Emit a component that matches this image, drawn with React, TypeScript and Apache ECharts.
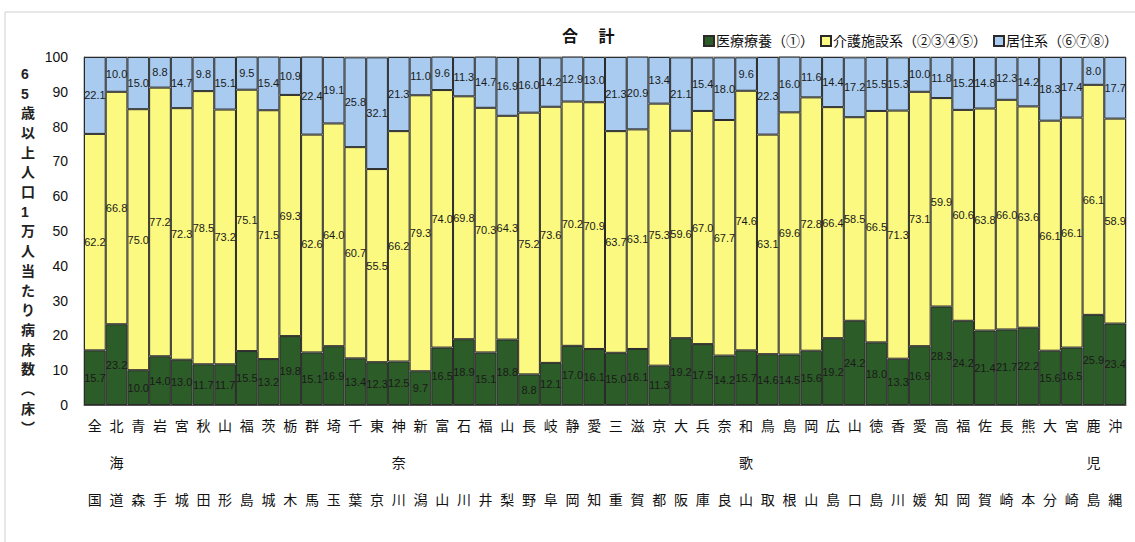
import React, { useEffect, useRef } from "react";
import * as echarts from "echarts";

const categories = [
  "全国", "北海道", "青森", "岩手", "宮城", "秋田", "山形", "福島", "茨城", "栃木", "群馬", "埼玉",
  "千葉", "東京", "神奈川", "新潟", "富山", "石川", "福井", "山梨", "長野", "岐阜", "静岡", "愛知",
  "三重", "滋賀", "京都", "大阪", "兵庫", "奈良", "和歌山", "鳥取", "島根", "岡山", "広島", "山口",
  "徳島", "香川", "愛媛", "高知", "福岡", "佐賀", "長崎", "熊本", "大分", "宮崎", "鹿児島", "沖縄",
];

const medical = [
  15.7, 23.2, 10.0, 14.0, 13.0, 11.7, 11.7, 15.5, 13.2, 19.8, 15.1, 16.9,
  13.4, 12.3, 12.5, 9.7, 16.5, 18.9, 15.1, 18.8, 8.8, 12.1, 17.0, 16.1,
  15.0, 16.1, 11.3, 19.2, 17.5, 14.2, 15.7, 14.6, 14.5, 15.6, 19.2, 24.2,
  18.0, 13.3, 16.9, 28.3, 24.2, 21.4, 21.7, 22.2, 15.6, 16.5, 25.9, 23.4,
];

const care = [
  62.2, 66.8, 75.0, 77.2, 72.3, 78.5, 73.2, 75.1, 71.5, 69.3, 62.6, 64.0,
  60.7, 55.5, 66.2, 79.3, 74.0, 69.8, 70.3, 64.3, 75.2, 73.6, 70.2, 70.9,
  63.7, 63.1, 75.3, 59.6, 67.0, 67.7, 74.6, 63.1, 69.6, 72.8, 66.4, 58.5,
  66.5, 71.3, 73.1, 59.9, 60.6, 63.8, 66.0, 63.6, 66.1, 66.1, 66.1, 58.9,
];

const residential = [
  22.1, 10.0, 15.0, 8.8, 14.7, 9.8, 15.1, 9.5, 15.4, 10.9, 22.4, 19.1,
  25.8, 32.1, 21.3, 11.0, 9.6, 11.3, 14.7, 16.9, 16.0, 14.2, 12.9, 13.0,
  21.3, 20.9, 13.4, 21.1, 15.4, 18.0, 9.6, 22.3, 16.0, 11.6, 14.4, 17.2,
  15.5, 15.3, 10.0, 11.8, 15.2, 14.8, 12.3, 14.2, 18.3, 17.4, 8.0, 17.7,
];

const seriesNames = ["医療療養（①）", "介護施設系（②③④⑤）", "居住系（⑥⑦⑧）"];
const yTitle = ["6", "5", "歳", "以", "上", "人", "口", "1", "万", "人", "当", "た", "り", "病", "床", "数", "︵", "床", "︶"];

const FONT = "'Liberation Sans', 'Noto Sans CJK JP', sans-serif";

export default function App() {
  const ref = useRef<HTMLDivElement>(null);

  useEffect(() => {
    document.body.style.margin = "0";
    const chart = echarts.init(ref.current!, null, { renderer: "svg" });
    const labelCfg = {
      show: true,
      position: "inside" as const,
      color: "#1a1a1a",
      fontSize: 11,
      fontFamily: FONT,
      formatter: (p: any) => Number(p.value).toFixed(1),
    };
    const mk = (name: string, data: number[], color: string) => ({
      name,
      type: "bar",
      stack: "total",
      data,
      barCategoryGap: "0%",
      itemStyle: { color, borderColor: "#2a2a2a", borderWidth: 1 },
      label: labelCfg,
    });
    chart.setOption({
      animation: false,
      textStyle: { fontFamily: FONT },
      title: {
        text: "合　 計",
        left: 557,
        top: 23,
        textStyle: { fontSize: 16, fontWeight: "bold", color: "#111", fontFamily: FONT },
      },
      legend: {
        top: 29,
        right: 12,
        icon: "rect",
        itemWidth: 10,
        itemHeight: 10,
        itemGap: 6,
        textStyle: { fontSize: 14, color: "#111", fontFamily: FONT, padding: [0, 0, 0, -3] },
        data: seriesNames,
      },
      grid: {
        left: 84,
        right: 9,
        top: 57,
        bottom: 137,
        show: true,
        borderColor: "#8a8a8a",
        borderWidth: 1,
      },
      xAxis: {
        type: "category",
        data: categories,
        axisTick: { show: false },
        axisLine: { lineStyle: { color: "#555" } },
        axisLabel: {
          interval: 0,
          margin: 2,
          fontSize: 14,
          lineHeight: 37,
          color: "#111",
          fontFamily: FONT,
          formatter: (v: string) => {
            const c = Array.from(v);
            if (c.length === 3) return c.join("\n");
            return c[0] + "\n\n" + c[1];
          },
        },
      },
      yAxis: {
        type: "value",
        min: 0,
        max: 100,
        interval: 10,
        axisLine: { show: true, lineStyle: { color: "#555" } },
        axisTick: { show: true, inside: true, length: 4, lineStyle: { color: "#555" } },
        splitLine: { show: false },
        axisLabel: { fontSize: 14, color: "#111", margin: 16, fontFamily: FONT },
      },
      graphic: [
        {
          type: "rect",
          shape: { x: 5, y: 12, width: 1140, height: 540 },
          style: { fill: "none", stroke: "#cfcfcf", lineWidth: 1 },
          silent: true,
        },
        {
          type: "text",
          left: 21,
          top: 64,
          style: {
            text: yTitle.join("\n"),
            fontSize: 14,
            lineHeight: 19.7,
            fontWeight: "bold",
            fill: "#222",
            align: "center",
            fontFamily: FONT,
          },
        },
      ],
      series: [
        mk(seriesNames[0], medical, "#2c5c27"),
        mk(seriesNames[1], care, "#fbf97f"),
        mk(seriesNames[2], residential, "#a8cbef"),
      ],
    });
    return () => chart.dispose();
  }, []);

  return <div ref={ref} style={{ width: 1135, height: 542 }} />;
}
